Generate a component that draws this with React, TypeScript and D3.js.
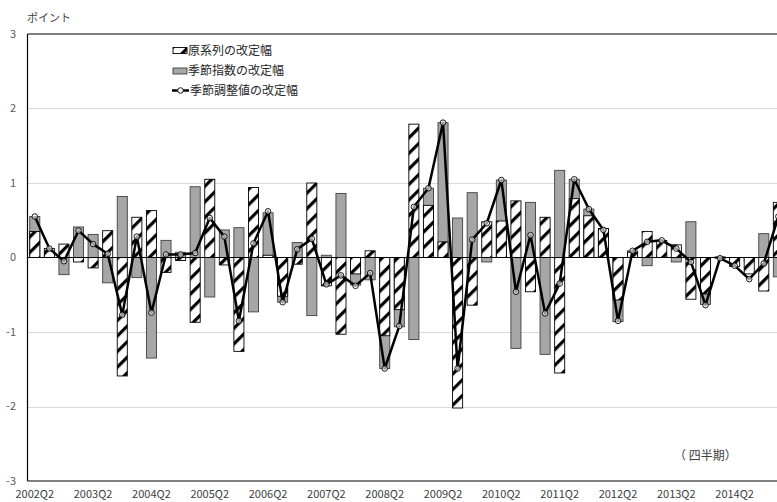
import React from "react";
import * as d3 from "d3";

// 四半期ラベル（2002Q2〜2015Q1）
const quarters: string[] = [
  "2002Q2", "2002Q3", "2002Q4", "2003Q1",
  "2003Q2", "2003Q3", "2003Q4", "2004Q1",
  "2004Q2", "2004Q3", "2004Q4", "2005Q1",
  "2005Q2", "2005Q3", "2005Q4", "2006Q1",
  "2006Q2", "2006Q3", "2006Q4", "2007Q1",
  "2007Q2", "2007Q3", "2007Q4", "2008Q1",
  "2008Q2", "2008Q3", "2008Q4", "2009Q1",
  "2009Q2", "2009Q3", "2009Q4", "2010Q1",
  "2010Q2", "2010Q3", "2010Q4", "2011Q1",
  "2011Q2", "2011Q3", "2011Q4", "2012Q1",
  "2012Q2", "2012Q3", "2012Q4", "2013Q1",
  "2013Q2", "2013Q3", "2013Q4", "2014Q1",
  "2014Q2", "2014Q3", "2014Q4", "2015Q1",
];

// 原系列の改定幅
const originalRevision: number[] = [
  0.35, 0.12, 0.18, -0.06,
  -0.14, 0.36, -1.59, 0.54,
  0.63, -0.2, -0.04, -0.87,
  1.05, -0.1, -1.26, 0.94,
  0.03, -0.52, -0.09, 1.0,
  -0.38, -1.03, -0.22, 0.09,
  -1.05, -0.7, 1.79, 0.7,
  0.21, -2.02, -0.64, 0.48,
  0.49, 0.76, -0.46, 0.54,
  -1.55, 0.79, 0.56, 0.39,
  -0.57, 0.07, 0.35, 0.23,
  0.17, -0.56, -0.49, -0.01,
  -0.12, -0.22, -0.45, 0.74,
];

// 季節指数の改定幅
const seasonalRevision: number[] = [
  0.55, 0.06, -0.23, 0.41,
  0.31, -0.34, 0.82, -0.27,
  -1.35, 0.23, 0.07, 0.95,
  -0.53, 0.37, 0.4, -0.73,
  0.6, -0.6, 0.2, -0.78,
  0.03, 0.86, -0.37, -0.3,
  -1.49, -0.93, -1.1, 0.93,
  1.81, 0.53, 0.87, -0.06,
  1.04, -1.22, 0.74, -1.3,
  1.17, 1.05, 0.65, 0.37,
  -0.86, 0.09, -0.11, 0.02,
  -0.06, 0.48, -0.63, 0.01,
  -0.03, -0.05, 0.32, -0.26,
];

// 季節調整値の改定幅
const adjustedRevision: number[] = [
  0.55, 0.12, -0.05, 0.36,
  0.18, 0.05, -0.77, 0.28,
  -0.74, 0.04, 0.04, 0.06,
  0.53, 0.28, -0.85, 0.19,
  0.62, -0.6, 0.11, 0.25,
  -0.36, -0.24, -0.38, -0.21,
  -1.49, -0.92, 0.68, 0.93,
  1.81, -1.49, 0.24, 0.46,
  1.04, -0.46, 0.3, -0.75,
  -0.35, 1.05, 0.65, 0.37,
  -0.85, 0.09, 0.21, 0.23,
  0.12, -0.06, -0.64, -0.01,
  -0.11, -0.29, -0.08, 0.55,
];

const yTicks: number[] = [3, 2, 1, 0, -1, -2, -3];

const legendLabels: string[] = ["原系列の改定幅", "季節指数の改定幅", "季節調整値の改定幅"];

const W = 777;
const H = 502;
const FONT = "'Noto Sans CJK JP', 'Noto Sans', sans-serif";

export default function App() {
  const left = 27.5;
  const step = 14.58;
  const x = d3
    .scaleBand<string>()
    .domain(quarters)
    .range([left, left + step * quarters.length])
    .paddingInner(0.31)
    .paddingOuter(0.155);
  const y = d3.scaleLinear().domain([-3, 3]).range([481, 34]);
  const bw = x.bandwidth();
  const cx = (q: string) => (x(q) as number) + bw / 2;

  const line = d3
    .line<number>()
    .x((_, i) => cx(quarters[i]))
    .y((d) => y(d));

  const barRect = (v: number) => ({
    y: Math.min(y(0), y(v)),
    h: Math.abs(y(v) - y(0)),
  });

  return (
    <svg
      width={W}
      height={H}
      style={{ position: "absolute", left: 0, top: 0, background: "#fff" }}
      fontFamily={FONT}
    >
      <defs>
        <pattern
          id="hatch"
          patternUnits="userSpaceOnUse"
          width={11}
          height={11}
          patternTransform="rotate(45)"
        >
          <rect width={11} height={11} fill="#fff" />
          <rect x={0} y={0} width={3.2} height={11} fill="#000" />
        </pattern>
        <clipPath id="plot">
          <rect x={left} y={34} width={W - left} height={447} />
        </clipPath>
      </defs>

      {/* 目盛り線 */}
      {yTicks
        .filter((t) => t !== 0 && Math.abs(t) !== 3)
        .map((t) => (
          <line
            key={`g${t}`}
            x1={left}
            x2={W}
            y1={Math.round(y(t)) + 0.5}
            y2={Math.round(y(t)) + 0.5}
            stroke="#d9d9d9"
            strokeWidth={1}
          />
        ))}

      <g clipPath="url(#plot)">
        {/* 季節指数の改定幅 */}
        {seasonalRevision.map((v, i) => {
          const r = barRect(v);
          return (
            <rect
              key={`s${i}`}
              x={x(quarters[i])}
              y={r.y}
              width={bw}
              height={r.h}
              fill="#a6a6a6"
              stroke="#404040"
              strokeWidth={0.9}
            />
          );
        })}
        {/* 原系列の改定幅 */}
        {originalRevision.map((v, i) => {
          const r = barRect(v);
          return (
            <rect
              key={`o${i}`}
              x={x(quarters[i])}
              y={r.y}
              width={bw}
              height={r.h}
              fill="url(#hatch)"
              stroke="#000"
              strokeWidth={0.9}
            />
          );
        })}

        {/* ゼロ線 */}
        <line x1={left} x2={W} y1={y(0)} y2={y(0)} stroke="#000" strokeWidth={1.2} />

        {/* 季節調整値の改定幅 */}
        <path d={line(adjustedRevision) || ""} fill="none" stroke="#000" strokeWidth={2.5} strokeLinejoin="round" />
        {adjustedRevision.map((v, i) => (
          <circle
            key={`c${i}`}
            cx={cx(quarters[i])}
            cy={y(v)}
            r={2.8}
            fill="#fff"
            fillOpacity={0.6}
            stroke="#000"
            strokeWidth={0.9}
          />
        ))}
      </g>

      {/* 枠線 */}
      <line x1={left} x2={W} y1={34} y2={34} stroke="#000" strokeWidth={1.2} />
      <line x1={left} x2={W} y1={481} y2={481} stroke="#000" strokeWidth={1.2} />
      <line x1={left} x2={left} y1={34} y2={481} stroke="#000" strokeWidth={1.2} />

      {/* 縦軸ラベル */}
      {yTicks.map((t) => (
        <text
          key={`t${t}`}
          x={16}
          y={y(t)}
          dy="0.35em"
          textAnchor="end"
          fontSize={11}
          fill="#595959"
        >
          {t}
        </text>
      ))}
      <text x={27} y={22} fontSize={11} fill="#404040">
        ポイント
      </text>

      {/* 横軸ラベル */}
      {quarters.map((q, i) =>
        i % 4 === 0 && cx(q) < W - 20 ? (
          <text key={`x${q}`} x={cx(q)} y={498} textAnchor="middle" fontSize={11} fill="#404040">
            {q}
          </text>
        ) : null
      )}
      <text x={674} y={460} fontSize={12} fill="#404040">
        （ 四半期）
      </text>

      {/* 凡例 */}
      <g>
        <rect x={173} y={47.5} width={14} height={6} fill="url(#hatch)" stroke="#000" strokeWidth={0.9} />
        <text x={188} y={51} dy="0.35em" fontSize={12} fill="#262626">
          {legendLabels[0]}
        </text>
        <rect x={173} y={68} width={14} height={6} fill="#a6a6a6" stroke="#404040" strokeWidth={0.9} />
        <text x={188} y={71} dy="0.35em" fontSize={12} fill="#262626">
          {legendLabels[1]}
        </text>
        <line x1={172} x2={189} y1={90.5} y2={90.5} stroke="#000" strokeWidth={2.5} />
        <circle cx={180.5} cy={90.5} r={2.8} fill="#fff" stroke="#000" strokeWidth={0.9} />
        <text x={190} y={91} dy="0.35em" fontSize={12} fill="#262626">
          {legendLabels[2]}
        </text>
      </g>
    </svg>
  );
}
